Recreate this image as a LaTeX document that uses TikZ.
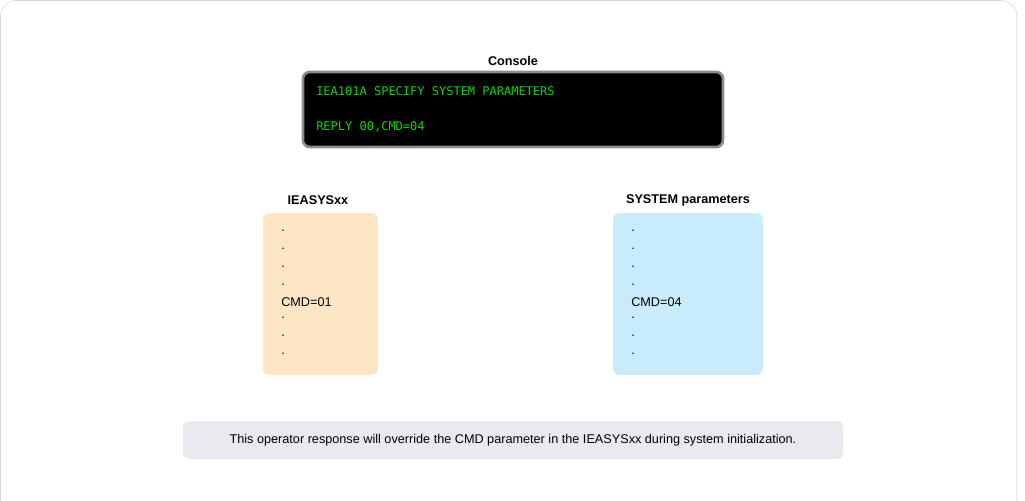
\documentclass[tikz,border=0pt]{standalone}
\usepackage{fontspec}
\setmainfont{Liberation Sans}
\newfontfamily\consolefont{DejaVu Sans Mono}
\begin{document}
\begin{tikzpicture}[x=0.75pt,y=-0.75pt,
  lbl/.style={font=\fontsize{9.5}{11}\selectfont\bfseries},
  txt/.style={font=\fontsize{9.5}{11}\selectfont,anchor=west,inner sep=0},
  con/.style={font=\consolefont\fontsize{9}{11}\selectfont,text=green!85!black,anchor=west,inner sep=0}]
\useasboundingbox (0,0) rectangle (1025,500);
\begin{scope}
\clip (0,0) rectangle (1025,500);
\draw[draw=black!15,fill=white,rounded corners=12] (0.5,0.5) rectangle (1017,540);
\end{scope}
\node[lbl] (conlbl) at (513,61) {Console};
\draw[draw=black!45,line width=2pt,fill=black,rounded corners=5] (303,72) rectangle (723,147);
\node[con] (c1) at (316,91) {IEA101A SPECIFY SYSTEM PARAMETERS};
\node[con] (c2) at (316,127) {REPLY 00,CMD=04};
\node[lbl] (l1) at (318,200) {IEASYSxx};
\fill[fill={rgb,255:red,253;green,230;blue,196},rounded corners=5] (263,213) rectangle (378,375);
\node[lbl] (l2) at (688,200) {SYSTEM parameters};
\fill[fill={rgb,255:red,200;green,236;blue,251},rounded corners=5] (613,213) rectangle (763,375);
\foreach \x/\v in {281/01,631/04}{
  \foreach \y in {234,252,270,288,321,339,357} \node[txt] at (\x,\y-3) {.};
  \node[txt] at (\x,302) {CMD=\v};
}
\fill[fill={rgb,255:red,234;green,233;blue,240},rounded corners=4] (183,421) rectangle (843,459);
\node[font=\fontsize{9.5}{11}\selectfont] (note) at (513,440) {This operator response will override the CMD parameter in the IEASYSxx during system initialization.};
\end{tikzpicture}
\end{document}
